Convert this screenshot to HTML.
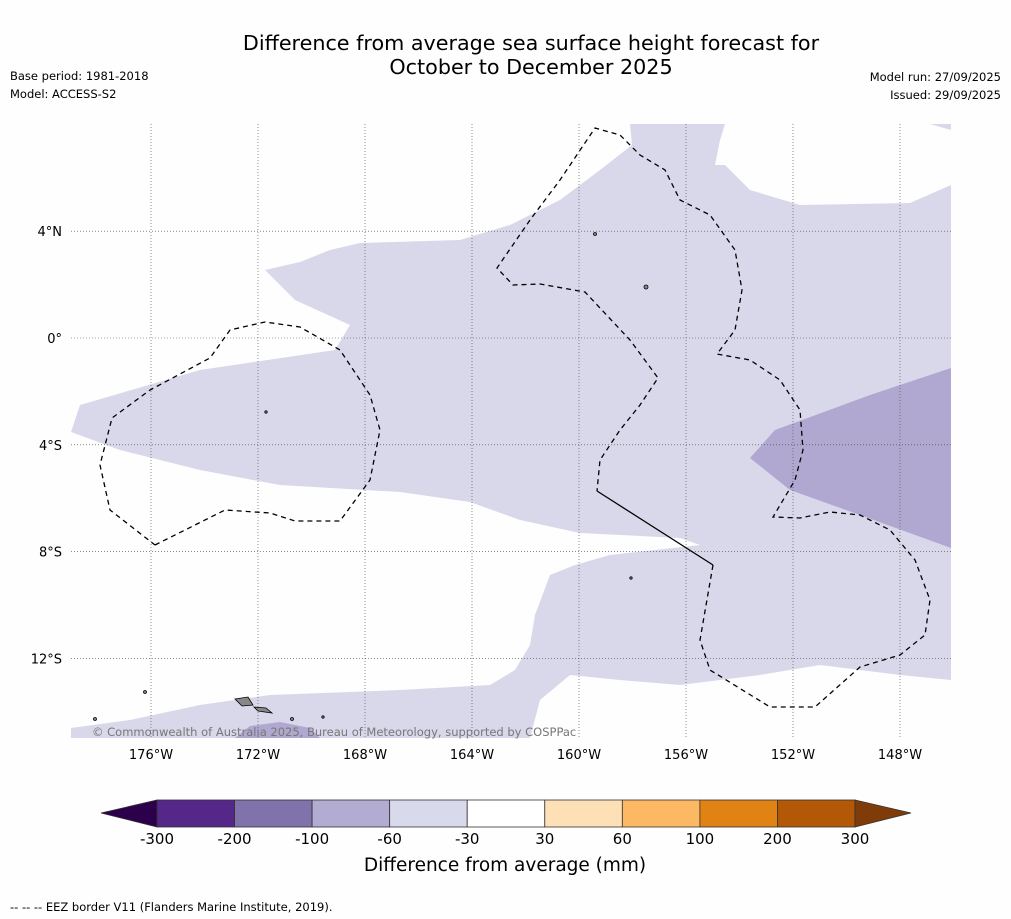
<!DOCTYPE html>
<html><head><meta charset="utf-8"><style>
body{margin:0;background:#fefefe;font-family:"DejaVu Sans",sans-serif;}
svg{display:block}
</style></head><body>
<svg width="1011" height="919" viewBox="0 0 1011 919" font-family="DejaVu Sans, sans-serif">
<rect width="1011" height="919" fill="#fefefe"/>
<text x="531" y="50" text-anchor="middle" font-size="20.7">Difference from average sea surface height forecast for</text>
<text x="531" y="74" text-anchor="middle" font-size="20.7">October to December 2025</text>
<text x="10" y="80" font-size="11.5">Base period: 1981-2018</text>
<text x="10" y="98" font-size="11.5">Model: ACCESS-S2</text>
<text x="1001" y="81" font-size="11.5" text-anchor="end">Model run: 27/09/2025</text>
<text x="1001" y="99" font-size="11.5" text-anchor="end">Issued: 29/09/2025</text>

<g>
<rect x="71" y="124" width="880" height="614" fill="#d8d8ea"/>
<polygon fill="#fefefe" points="71,124 630,124 632,145 600,170 560,200 510,225 460,240 360,243 330,250 300,262 265,270 295,300 350,325 335,350 200,370 80,405 71,432"/>
<polygon fill="#fefefe" points="725,124 930,124 951,130 951,185 910,203 800,205 750,190 725,165 715,165 720,140"/>
<polygon fill="#fefefe" points="71,432 120,450 200,470 280,485 400,492 470,502 520,520 580,533 680,538 700,545 610,555 575,565 550,575 535,615 530,645 515,670 490,685 400,690 270,695 200,705 130,720 71,728"/>
<polygon fill="#fefefe" points="530,738 540,700 570,675 620,680 680,685 760,675 820,665 900,675 951,680 951,738"/>
<polygon fill="#b0a8d0" points="951,368 870,395 775,430 750,458 790,490 860,515 951,548"/>
<polygon fill="#b0a8d0" points="235,738 250,726 280,722 310,728 320,738"/>
<g id="grid" stroke="#444" stroke-width="0.6" stroke-dasharray="1,2"></g>
<g fill="none" stroke="#000" stroke-width="1.3">
<polyline stroke-dasharray="5,4" points="155,545 225,510 270,513 295,521 340,521 370,480 380,430 370,395 340,350 300,327 265,322 230,330 210,358 150,390 112,418 100,465 110,510 155,545"/>
<polyline stroke-dasharray="5,4" points="713,565 700,640 710,670 770,707 815,707 860,667 900,655 925,635 930,600 915,560 890,530 860,515 830,512 800,518 773,517 795,480 803,450 800,410 780,380 750,360 717,354 735,330 742,290 735,250 710,215 680,200 665,170 640,155 620,135 595,128 560,180 530,220 497,268 513,285 540,284 585,292 630,340 658,378 640,405 620,430 600,460 597,491"/>
<polyline points="597,491 713,565"/>
</g>
<g fill="#888" stroke="#000" stroke-width="0.8">
<polygon points="235,699 248,697 253,705 242,706"/><polygon points="254,707 266,708 272,713 258,711"/>
<circle cx="145" cy="692" r="1.5"/><circle cx="95" cy="719" r="1.5"/><circle cx="292" cy="719" r="1.5"/><circle cx="323" cy="717" r="1.2"/>
<circle cx="646" cy="287" r="2"/><circle cx="595" cy="234" r="1.5"/><circle cx="266" cy="412" r="1.2"/><circle cx="631" cy="578" r="1.2"/>
</g>
</g>
<text x="92" y="736" font-size="11.5" fill="#777">© Commonwealth of Australia 2025, Bureau of Meteorology, supported by COSPPac</text>
<g id="axes" font-size="13"></g>
<g id="cbar"></g>
<text x="505" y="871" text-anchor="middle" font-size="18.5">Difference from average (mm)</text>
<text x="10" y="911" font-size="11.5">--  --  -- EEZ border V11 (Flanders Marine Institute, 2019).</text>
</svg>
<script>
const lonTicks=[-176,-172,-168,-164,-160,-156,-152,-148];
const latTicks=[4,0,-4,-8,-12];
const levels=[-300,-200,-100,-60,-30,30,60,100,200,300];
const levelColors=["#542788","#8073ac","#b2abd2","#d8daeb","#ffffff","#fee0b6","#fdb863","#e08214","#b35806"];
const NS="http://www.w3.org/2000/svg";
const xLon=l=>151+(l+176)*26.75;
const yLat=l=>338-l*26.7;
function mk(t,a,p){const e=document.createElementNS(NS,t);for(const k in a)e.setAttribute(k,a[k]);p.appendChild(e);return e;}
const grid=document.getElementById('grid'),axes=document.getElementById('axes');
lonTicks.forEach(l=>{const x=xLon(l);
const g=mk('line',{x1:x,x2:x,y1:124,y2:738},grid);


const t=mk('text',{x:x,y:759,'text-anchor':'middle'},axes);t.textContent=Math.abs(l)+'°W';

});
latTicks.forEach(l=>{const y=yLat(l);
const g=mk('line',{x1:71,x2:951,y1:y,y2:y},grid);


const t=mk('text',{x:62,y:y+5,'text-anchor':'end'},axes);t.textContent=l===0?'0°':Math.abs(l)+'°'+(l>0?'N':'S');

});
const cb=document.getElementById('cbar');const x0=157,w=(855-157)/levelColors.length;
levelColors.forEach((c,i)=>{const r=mk('rect',{x:x0+i*w,y:800,width:w,height:27,fill:c,stroke:'#333','stroke-width':0.8},cb);

});
const lt=mk('polygon',{points:'101,813 157,800 157,827',fill:'#2d004b',stroke:'#333','stroke-width':0.8},cb);


const rt=mk('polygon',{points:'911,813 855,800 855,827',fill:'#7f3b08',stroke:'#333','stroke-width':0.8},cb);


levels.forEach((v,i)=>{const t=mk('text',{x:x0+i*w,y:844,'text-anchor':'middle','font-size':15},cb);t.textContent=v;

});
</script>
</body></html>
